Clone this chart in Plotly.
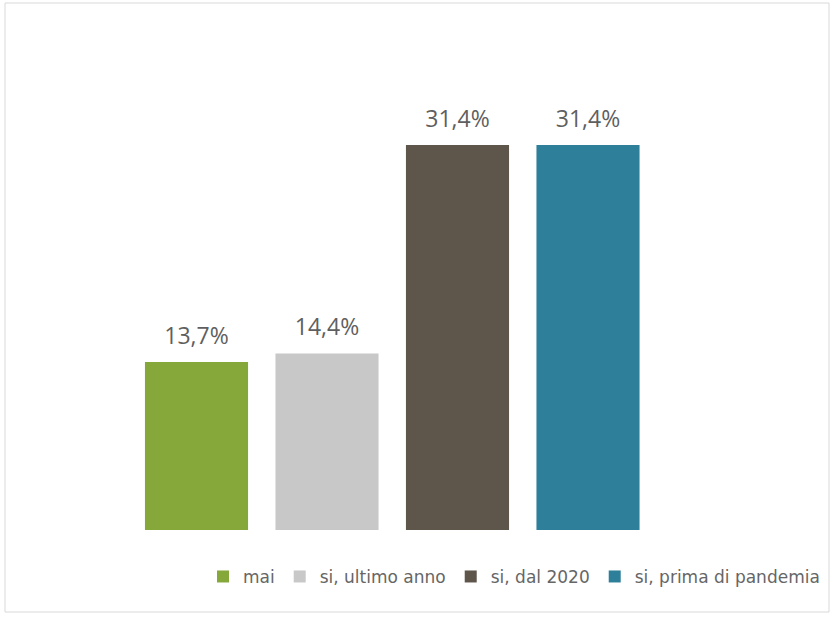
import plotly.graph_objects as go

categories = ["mai", "si, ultimo anno", "si, dal 2020", "si, prima di pandemia"]
values = [13.7, 14.4, 31.4, 31.4]
colors = ["#86a83b", "#c8c8c8", "#5e554b", "#2e7f99"]
labels = [f"{v:.1f}%".replace(".", ",") for v in values]

W, H = 835, 617
L, R, T, B = 10, 10, 20, 87
plot_w = W - L - R
plot_h = H - T - B

fig = go.Figure()
for i, (c, v, col) in enumerate(zip(categories, values, colors)):
    fig.add_trace(go.Bar(
        x=[i], y=[v], name=c, width=0.79,
        marker=dict(color=col, line=dict(width=0)),
    ))
fig.add_trace(go.Scatter(
    x=list(range(len(values))), y=values, mode="text+markers",
    marker=dict(size=18, opacity=0), text=labels, textposition="top center",
    textfont=dict(size=23, color="#5f5f5f", family="Open Sans"),
    showlegend=False, hoverinfo="skip", cliponaxis=False,
))

px_per_unit = 130.5
x0 = -(196.5 - L) / px_per_unit
x1 = (W - R - 196.5) / px_per_unit
y_per = 385 / 31.4
ymax = plot_h / y_per

fig.update_layout(
    width=W, height=H,
    margin=dict(l=L, r=R, t=T, b=B),
    paper_bgcolor="white", plot_bgcolor="white",
    barmode="overlay",
    showlegend=True,
    legend=dict(orientation="h", x=1.0, xanchor="right", y=-0.092, yanchor="middle",
                font=dict(size=17, color="#666666", family="DejaVu Sans"),
                traceorder="normal"),
    xaxis=dict(range=[x0, x1], visible=False),
    yaxis=dict(range=[0, ymax], visible=False),
    shapes=[dict(type="rect", xref="paper", yref="paper",
                 x0=(5 - L) / plot_w, x1=(829 - L) / plot_w,
                 y0=(H - B - 612) / plot_h, y1=(H - B - 3) / plot_h,
                 line=dict(color="#d9d9d9", width=1), fillcolor="rgba(0,0,0,0)")],
)

fig.write_html("out.html", config={"displayModeBar": False},
               post_script="document.body.style.margin='0';document.body.style.overflow='hidden';")
